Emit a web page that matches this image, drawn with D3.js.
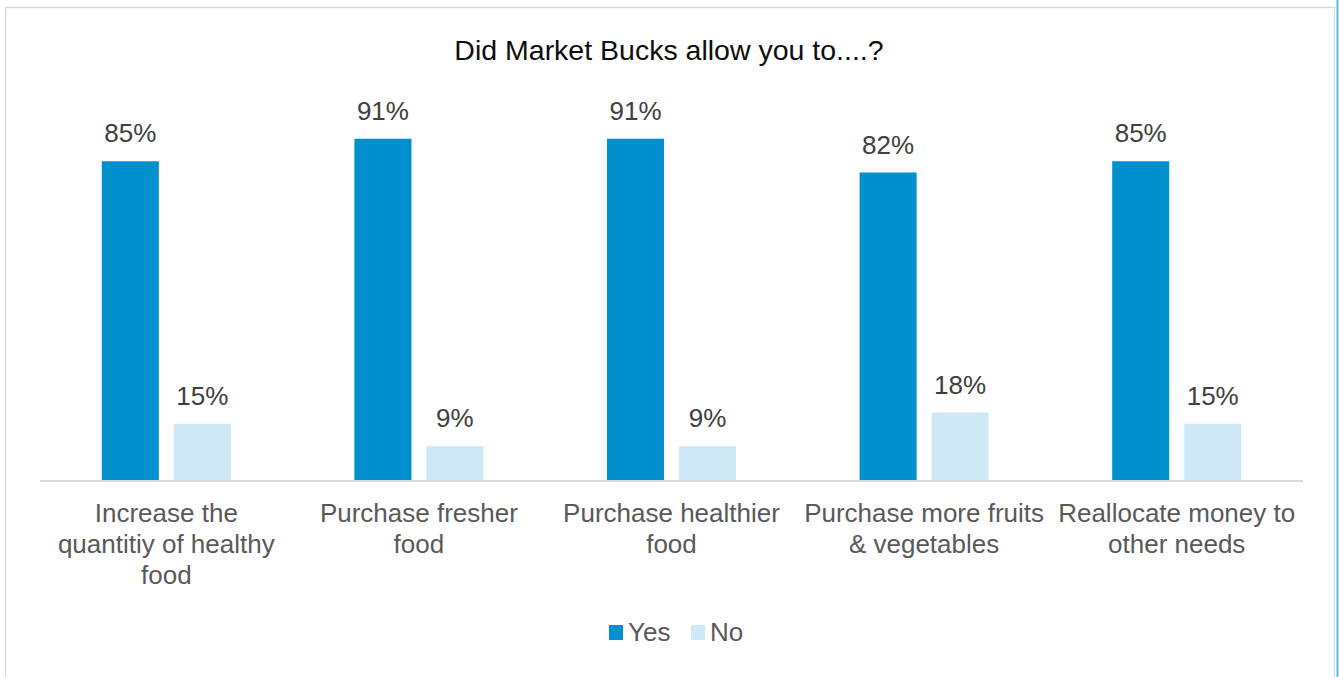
<!DOCTYPE html>
<html>
<head>
<meta charset="utf-8">
<script src="https://cdn.jsdelivr.net/npm/d3@7"></script>
<style>
  html, body { margin: 0; padding: 0; background: #fff; }
  svg { display: block; }
  text { font-family: "Liberation Sans", Arial, sans-serif; }
</style>
</head>
<body>
<svg id="chart" width="1339" height="677"></svg>
<script>
// Survey answers, share of respondents
const categories = [
  "Increase the quantitiy of healthy food",
  "Purchase fresher food",
  "Purchase healthier food",
  "Purchase more fruits & vegetables",
  "Reallocate money to other needs"
];
// Line breaks used for the category labels under the axis
const categoryLines = [
  ["Increase the", "quantitiy of healthy", "food"],
  ["Purchase fresher", "food"],
  ["Purchase healthier", "food"],
  ["Purchase more fruits", "& vegetables"],
  ["Reallocate money to", "other needs"]
];
const seriesNames = ["Yes", "No"];
const yesValues = [0.85, 0.91, 0.91, 0.82, 0.85];
const noValues  = [0.15, 0.09, 0.09, 0.18, 0.15];
const title = "Did Market Bucks allow you to....?";

const colors = { Yes: "#0090CE", No: "#CEE8F5" };

const svg = d3.select("#chart");

// Chart frame
svg.append("line").attr("x1", 5).attr("x2", 1335.5).attr("y1", 7.5).attr("y2", 7.5)
  .attr("stroke", "#d9d9d9").attr("stroke-width", 1.5);
svg.append("line").attr("x1", 5.5).attr("x2", 5.5).attr("y1", 7).attr("y2", 677)
  .attr("stroke", "#d9d9d9").attr("stroke-width", 1.5);
svg.append("line").attr("x1", 1334.5).attr("x2", 1334.5).attr("y1", 7).attr("y2", 677)
  .attr("stroke", "#d9d9d9").attr("stroke-width", 1);
svg.append("line").attr("x1", 1337.5).attr("x2", 1337.5).attr("y1", 0).attr("y2", 677)
  .attr("stroke", "#5bb8e0").attr("stroke-width", 2);

const plot = { left: 40, right: 1303, top: 105, bottom: 480 };

const x0 = d3.scaleBand().domain(categories).range([plot.left, plot.right]).padding(0);
const groupWidth = 129;
const x1 = d3.scaleBand().domain(seriesNames)
  .range([(x0.bandwidth() - groupWidth) / 2, (x0.bandwidth() + groupWidth) / 2])
  .paddingInner(0.208).paddingOuter(0);
const y = d3.scaleLinear().domain([0, 1]).range([plot.bottom, plot.top]);

const rows = categories.map((c, i) => ({ category: c, Yes: yesValues[i], No: noValues[i] }));

// Title
svg.append("text")
  .attr("x", 669).attr("y", 60)
  .attr("text-anchor", "middle")
  .attr("font-size", 28.5)
  .attr("fill", "#0d0d0d")
  .text(title);

// Bars and value labels
const groups = svg.append("g").selectAll("g")
  .data(rows).join("g")
  .attr("transform", d => `translate(${x0(d.category)},0)`);

groups.selectAll("rect")
  .data(d => seriesNames.map(s => ({ key: s, value: d[s] })))
  .join("rect")
  .attr("x", d => x1(d.key))
  .attr("width", x1.bandwidth())
  .attr("y", d => y(d.value))
  .attr("height", d => y(0) - y(d.value))
  .attr("fill", d => colors[d.key]);

groups.selectAll("text.value")
  .data(d => seriesNames.map(s => ({ key: s, value: d[s] })))
  .join("text")
  .attr("class", "value")
  .attr("x", d => x1(d.key) + x1.bandwidth() / 2)
  .attr("y", d => y(d.value) - 19)
  .attr("text-anchor", "middle")
  .attr("font-size", 26)
  .attr("fill", "#404040")
  .text(d => d3.format(".0%")(d.value));

// Category axis
const axis = svg.append("g")
  .attr("transform", `translate(0,${plot.bottom})`)
  .call(d3.axisBottom(x0).tickSize(0).tickFormat(""));
axis.select(".domain").attr("stroke", "#d9d9d9").attr("stroke-width", 2)
  .attr("d", `M${plot.left},1H${plot.right}`);

const catLabels = svg.append("g").selectAll("text")
  .data(categories).join("text")
  .attr("x", d => x0(d) + x0.bandwidth() / 2)
  .attr("y", 522)
  .attr("text-anchor", "middle")
  .attr("font-size", 26)
  .attr("fill", "#595959");
catLabels.each(function(d, i) {
  d3.select(this).selectAll("tspan")
    .data(categoryLines[i]).join("tspan")
    .attr("x", x0(d) + x0.bandwidth() / 2)
    .attr("dy", (l, j) => j === 0 ? 0 : 30.8)
    .text(l => l);
});

// Legend
const legend = svg.append("g").attr("transform", "translate(609,625)");
const legendItems = [{ key: "Yes", x: 0 }, { key: "No", x: 82 }];
legendItems.forEach(item => {
  legend.append("rect").attr("x", item.x).attr("y", 0).attr("width", 14).attr("height", 15)
    .attr("fill", colors[item.key]);
  legend.append("text").attr("x", item.x + 19).attr("y", 16)
    .attr("font-size", 26).attr("fill", "#595959").text(item.key);
});
</script>
</body>
</html>
